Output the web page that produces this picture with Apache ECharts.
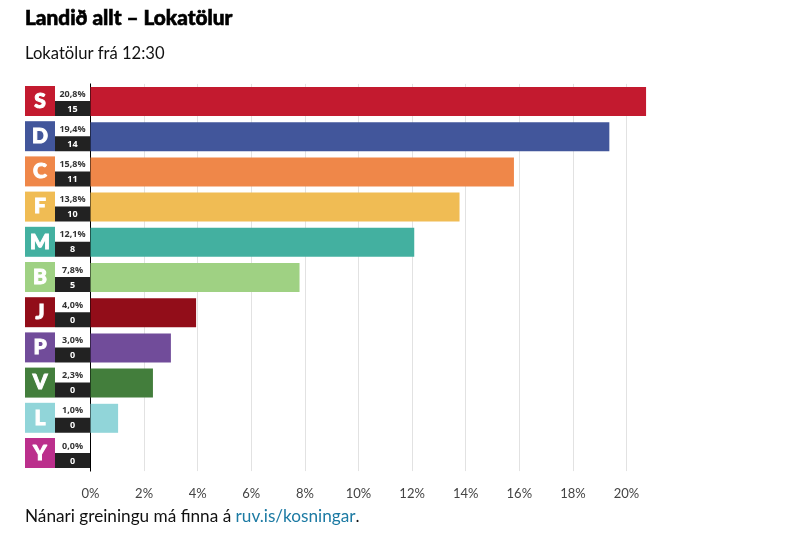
<!DOCTYPE html>
<html>
<head>
<meta charset="utf-8">
<style>
  html, body { margin: 0; padding: 0; background: #fff; }
  #chart { width: 802px; height: 537px; }
</style>
<script src="https://cdn.jsdelivr.net/npm/echarts@6/dist/echarts.min.js"></script>
</head>
<body>
<div id="chart"></div>
<script>
var parties = ['S', 'D', 'C', 'F', 'M', 'B', 'J', 'P', 'V', 'L', 'Y'];
// bar lengths, the printed labels are rounded
var barValues = [20.73, 19.36, 15.8, 13.77, 12.08, 7.8, 3.94, 3.0, 2.33, 1.03, 0];
var percentLabels = ['20,8%', '19,4%', '15,8%', '13,8%', '12,1%', '7,8%', '4,0%', '3,0%', '2,3%', '1,0%', '0,0%'];
var seats = [15, 14, 11, 10, 8, 5, 0, 0, 0, 0, 0];
var colors = ['#c31a2f', '#42569b', '#ef8749', '#f0bc54', '#43b0a0', '#9fd183', '#920d19', '#714c9a', '#437e3c', '#91d5d9', '#bb2f8c'];

var FONT = 'Lato, "Open Sans", sans-serif';
var SMALL_FONT = '"Open Sans", sans-serif';
var chart = echarts.init(document.getElementById('chart'));

// merkimiðar vinstra megin við ásinn
function renderBadge(params, api) {
  var i = api.value(0);
  var p = api.coord([0, i]);
  var x = p[0], y = p[1];
  return {
    type: 'group',
    children: [
      { type: 'rect', shape: { x: x - 65.5, y: y - 15.5, width: 30, height: 30 }, style: { fill: colors[i] } },
      { type: 'text', style: { x: x - 50.5, y: y - 0.5, text: parties[i], fill: '#fff', stroke: '#fff', lineWidth: 1, font: '900 21px ' + FONT, textAlign: 'center', textVerticalAlign: 'middle' } },
      { type: 'rect', shape: { x: x - 35.5, y: y - 0.5, width: 35, height: 15 }, style: { fill: '#222' } },
      { type: 'text', style: { x: x - 18, y: y - 7.5, text: percentLabels[i], fill: '#333', font: '700 9px ' + SMALL_FONT, textAlign: 'center', textVerticalAlign: 'middle' } },
      { type: 'text', style: { x: x - 18, y: y + 7.5, text: String(seats[i]), fill: '#fff', font: '700 9px ' + SMALL_FONT, textAlign: 'center', textVerticalAlign: 'middle' } }
    ]
  };
}

var option = {
  animation: false,
  backgroundColor: '#fff',
  title: [
    { text: 'Landið allt – Lokatölur', left: 25, top: 8, padding: 0, textStyle: { fontFamily: FONT, fontSize: 20.8, fontWeight: 900, color: '#000', textBorderColor: '#000', textBorderWidth: 0.6 } },
    { text: 'Lokatölur frá 12:30', left: 25, top: 45, padding: 0, textStyle: { fontFamily: FONT, fontSize: 16.6, fontWeight: 400, color: '#111' } },
    {
      text: 'Nánari greiningu má finna á {link|ruv.is/kosningar}.',
      left: 25, top: 508, padding: 0,
      textStyle: {
        fontFamily: FONT, fontSize: 17.2, fontWeight: 400, color: '#111',
        rich: { link: { fontFamily: FONT, fontSize: 17.2, color: '#1c7aa3' } }
      }
    }
  ],
  grid: { left: 90.5, top: 83.9, width: 562.8, height: 387.2, containLabel: false },
  xAxis: {
    type: 'value',
    min: 0,
    max: 21,
    interval: 2,
    axisLine: { show: false },
    axisTick: { show: false },
    axisLabel: {
      margin: 16,
      showMaxLabel: false,
      fontFamily: FONT,
      fontSize: 13,
      color: '#444',
      formatter: '{value}%'
    },
    splitLine: { showMaxLine: false, showMinLine: false, lineStyle: { color: '#e2e2e2', width: 1 } }
  },
  yAxis: {
    type: 'category',
    inverse: true,
    data: parties,
    axisLine: { onZero: false, lineStyle: { color: '#000', width: 1 } },
    axisTick: { show: false },
    axisLabel: { show: false }
  },
  series: [
    {
      type: 'bar',
      barWidth: 29,
      data: barValues.map(function (v, i) {
        return { value: v, itemStyle: { color: colors[i] } };
      })
    },
    {
      type: 'custom',
      clip: false,
      z: 5,
      encode: { y: 0 },
      data: parties.map(function (p, i) { return [i]; }),
      renderItem: renderBadge
    }
  ]
};

chart.setOption(option);
</script>
</body>
</html>
